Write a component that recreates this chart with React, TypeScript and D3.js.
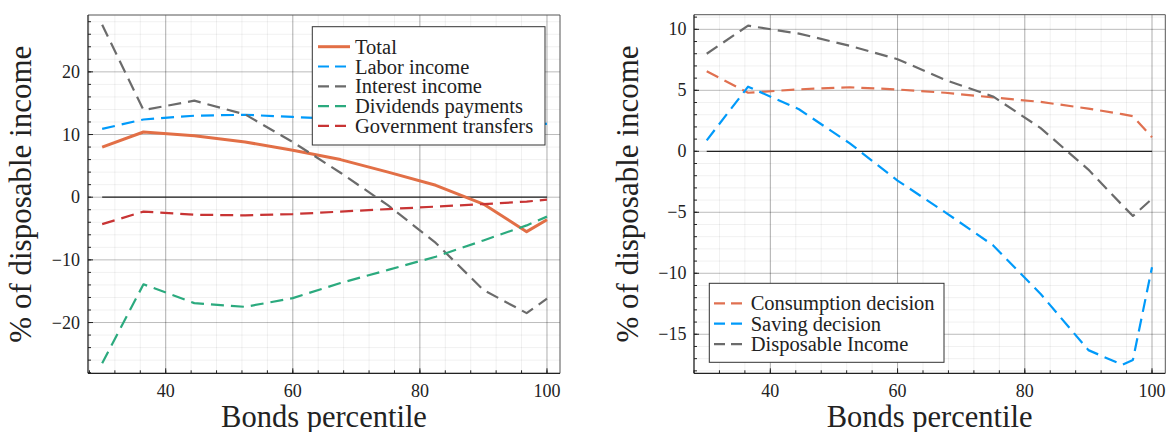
import React from 'react';
import * as d3 from 'd3';

const FONT = "'Liberation Serif', 'Times New Roman', serif";

// ---------- Left panel data ----------
const pctLeft = [30, 36.5, 44.5, 52.5, 60, 67.5, 75, 82.5, 90, 96.8, 100];
const totalIncome = [8.0, 10.4, 9.8, 8.8, 7.5, 6.0, 4.0, 1.9, -1.1, -5.5, -3.6];
const laborIncome = [10.9, 12.4, 13.0, 13.15, 12.8, 12.5, 12.3, 12.1, 11.95, 11.8, 11.7];
const interestIncome = [27.5, 13.9, 15.4, 13.2, 8.8, 3.9, -1.3, -7.3, -14.8, -18.5, -16.2];
const dividendsPayments = [-26.5, -13.9, -16.9, -17.5, -16.1, -13.7, -11.6, -9.5, -6.9, -4.5, -3.1];
const governmentTransfers = [-4.3, -2.3, -2.8, -2.9, -2.7, -2.3, -1.9, -1.5, -1.1, -0.7, -0.4];

// ---------- Right panel data ----------
const pctRight = [30, 36.5, 44.5, 52.5, 60, 67.5, 75, 82.5, 90, 95.3, 97, 100];
const consumptionDecision = [6.56, 4.8, 5.08, 5.25, 5.07, 4.8, 4.42, 4.05, 3.5, 3.05, 2.88, 1.15];
const savingDecision = [0.9, 5.3, 3.45, 0.65, -2.4, -5.0, -7.7, -11.7, -16.3, -17.5, -17.1, -9.5];
const disposableIncome = [8.0, 10.3, 9.65, 8.65, 7.55, 5.85, 4.5, 1.9, -1.5, -4.4, -5.3, -3.9];

// ---------- Axis ticks ----------
const xMajorTicks = [40, 60, 80, 100];
const leftYTicks = [-20, -10, 0, 10, 20];
const rightYTicks = [-15, -10, -5, 0, 5, 10];

const xLabel = 'Bonds percentile';
const yLabel = '% of disposable income';

type Series = { name: string; values: number[]; color: string; dash: string | null; width: number };

const DASH = '13 7';

const leftSeries: Series[] = [
  { name: 'Total', values: totalIncome, color: '#E26F46', dash: null, width: 3 },
  { name: 'Labor income', values: laborIncome, color: '#009AFA', dash: DASH, width: 2.2 },
  { name: 'Interest income', values: interestIncome, color: '#6B6B6B', dash: DASH, width: 2.2 },
  { name: 'Dividends payments', values: dividendsPayments, color: '#2BAA7E', dash: DASH, width: 2.2 },
  { name: 'Government transfers', values: governmentTransfers, color: '#C83434', dash: DASH, width: 2.2 },
];

const rightSeries: Series[] = [
  { name: 'Consumption decision', values: consumptionDecision, color: '#E07050', dash: DASH, width: 2.2 },
  { name: 'Saving decision', values: savingDecision, color: '#009AFA', dash: DASH, width: 2.2 },
  { name: 'Disposable Income', values: disposableIncome, color: '#6B6B6B', dash: DASH, width: 2.2 },
];

const fmt = (v: number) => (v < 0 ? '\u2212' + Math.abs(v) : String(v));

type PanelProps = {
  rect: { x0: number; x1: number; y0: number; y1: number };
  xDom: [number, number];
  yDom: [number, number];
  xs: number[];
  series: Series[];
  yTicks: number[];
  yMinorStep: number;
  legend: { x0: number; y0: number; x1: number; y1: number; rowY0: number; rowStep: number; lineX0: number; lineX1: number; textX: number };
  yLabelX: number;
  tickLabelRight: number;
};

function Panel(p: PanelProps) {
  const { rect, xDom, yDom, xs, series, yTicks, yMinorStep, legend } = p;
  const x = d3.scaleLinear().domain(xDom).range([rect.x0, rect.x1]);
  const y = d3.scaleLinear().domain(yDom).range([rect.y1, rect.y0]);
  const xMinor = d3.range(28, 102.1, 4).filter((v) => v >= xDom[0] && v <= xDom[1]);
  const yMinor = d3
    .range(Math.ceil(yDom[0] / yMinorStep) * yMinorStep, yDom[1] + 1e-9, yMinorStep)
    .filter((v) => v >= yDom[0] && v <= yDom[1]);
  const line = d3
    .line<number>()
    .x((_, i) => x(xs[i]))
    .y((d) => y(d));
  const cx = (rect.x0 + rect.x1) / 2;
  const cy = (rect.y0 + rect.y1) / 2;
  return (
    <g>
      {/* minor grid */}
      {xMinor.map((v) => (
        <line key={'xm' + v} x1={x(v)} x2={x(v)} y1={rect.y0} y2={rect.y1} stroke="#000" strokeOpacity={0.06} strokeWidth={1} />
      ))}
      {yMinor.map((v) => (
        <line key={'ym' + v} x1={rect.x0} x2={rect.x1} y1={y(v)} y2={y(v)} stroke="#000" strokeOpacity={0.06} strokeWidth={1} />
      ))}
      {/* major grid */}
      {xMajorTicks.map((v) => (
        <line key={'xg' + v} x1={x(v)} x2={x(v)} y1={rect.y0} y2={rect.y1} stroke="#000" strokeOpacity={0.28} strokeWidth={1} />
      ))}
      {yTicks.map((v) => (
        <line key={'yg' + v} x1={rect.x0} x2={rect.x1} y1={y(v)} y2={y(v)} stroke="#000" strokeOpacity={0.22} strokeWidth={1} />
      ))}
      {/* zero line */}
      <line x1={x(xs[0])} x2={x(xs[xs.length - 1])} y1={y(0)} y2={y(0)} stroke="#222" strokeWidth={1.2} />
      {/* series */}
      {series.map((s) => (
        <path
          key={s.name}
          d={line(s.values) || ''}
          fill="none"
          stroke={s.color}
          strokeWidth={s.width}
          strokeDasharray={s.dash || undefined}
          strokeLinejoin="round"
        />
      ))}
      {/* frame */}
      <line x1={rect.x0} x2={rect.x1} y1={rect.y0} y2={rect.y0} stroke="#555" strokeWidth={1} />
      <line x1={rect.x1} x2={rect.x1} y1={rect.y0} y2={rect.y1} stroke="#555" strokeWidth={1} />
      <line x1={rect.x0} x2={rect.x0} y1={rect.y0} y2={rect.y1} stroke="#222" strokeWidth={1.3} />
      <line x1={rect.x0} x2={rect.x1} y1={rect.y1} y2={rect.y1} stroke="#222" strokeWidth={1.3} />
      {/* ticks */}
      {xMinor.map((v) => (
        <line key={'xt' + v} x1={x(v)} x2={x(v)} y1={rect.y1} y2={rect.y1 - 3} stroke="#222" strokeWidth={1} />
      ))}
      {xMajorTicks.map((v) => (
        <line key={'xT' + v} x1={x(v)} x2={x(v)} y1={rect.y1} y2={rect.y1 - 5} stroke="#222" strokeWidth={1} />
      ))}
      {yMinor.map((v) => (
        <line key={'yt' + v} x1={rect.x0} x2={rect.x0 + 3} y1={y(v)} y2={y(v)} stroke="#222" strokeWidth={1} />
      ))}
      {yTicks.map((v) => (
        <line key={'yT' + v} x1={rect.x0} x2={rect.x0 + 5} y1={y(v)} y2={y(v)} stroke="#222" strokeWidth={1} />
      ))}
      {/* tick labels */}
      {xMajorTicks.map((v) => (
        <text key={'xl' + v} x={x(v)} y={rect.y1 + 23.5} textAnchor="middle" fontFamily={FONT} fontSize={18} fill="#222">
          {v}
        </text>
      ))}
      {yTicks.map((v) => (
        <text key={'yl' + v} x={p.tickLabelRight} y={y(v) + 6} textAnchor="end" fontFamily={FONT} fontSize={18} fill="#222">
          {fmt(v)}
        </text>
      ))}
      {/* axis labels */}
      <text x={cx} y={426.5} textAnchor="middle" fontFamily={FONT} fontSize={30.5} fill="#222">
        {xLabel}
      </text>
      <text
        transform={`translate(${p.yLabelX},${cy}) rotate(-90)`}
        textAnchor="middle"
        fontFamily={FONT}
        fontSize={31}
        fill="#222"
      >
        {yLabel}
      </text>
      {/* legend */}
      <rect x={legend.x0} y={legend.y0} width={legend.x1 - legend.x0} height={legend.y1 - legend.y0} fill="#fff" stroke="#333" strokeWidth={1} />
      {series.map((s, i) => {
        const ly = legend.rowY0 + i * legend.rowStep;
        return (
          <g key={'lg' + s.name}>
            <line
              x1={legend.lineX0}
              x2={legend.lineX1}
              y1={ly}
              y2={ly}
              stroke={s.color}
              strokeWidth={s.width}
              strokeDasharray={s.dash ? '11 6' : undefined}
            />
            <text x={legend.textX} y={ly + 7} fontFamily={FONT} fontSize={20.5} fill="#222">
              {s.name}
            </text>
          </g>
        );
      })}
    </g>
  );
}

export default function App() {
  return (
    <svg
      width={1173}
      height={432}
      viewBox="0 0 1173 432"
      style={{ position: 'absolute', left: 0, top: 0, background: '#fff' }}
    >
      <rect x={0} y={0} width={1173} height={432} fill="#fff" />
      <Panel
        rect={{ x0: 88, x1: 560, y0: 15, y1: 373.3 }}
        xDom={[27.77, 102.05]}
        yDom={[-28.1, 29.07]}
        xs={pctLeft}
        series={leftSeries}
        yTicks={leftYTicks}
        yMinorStep={2}
        legend={{ x0: 312.3, y0: 26.7, x1: 545, y1: 145, rowY0: 46.7, rowStep: 19.8, lineX0: 318, lineX1: 350, textX: 355 }}
        yLabelX={31}
        tickLabelRight={80}
      />
      <Panel
        rect={{ x0: 694, x1: 1165.3, y0: 14.7, y1: 373.3 }}
        xDom={[28.0, 102.09]}
        yDom={[-18.2, 11.2]}
        xs={pctRight}
        series={rightSeries}
        yTicks={rightYTicks}
        yMinorStep={1}
        legend={{ x0: 709.3, y0: 283.3, x1: 944, y1: 362.3, rowY0: 303.3, rowStep: 20.4, lineX0: 714, lineX1: 746, textX: 750.7 }}
        yLabelX={638}
        tickLabelRight={686.5}
      />
    </svg>
  );
}
